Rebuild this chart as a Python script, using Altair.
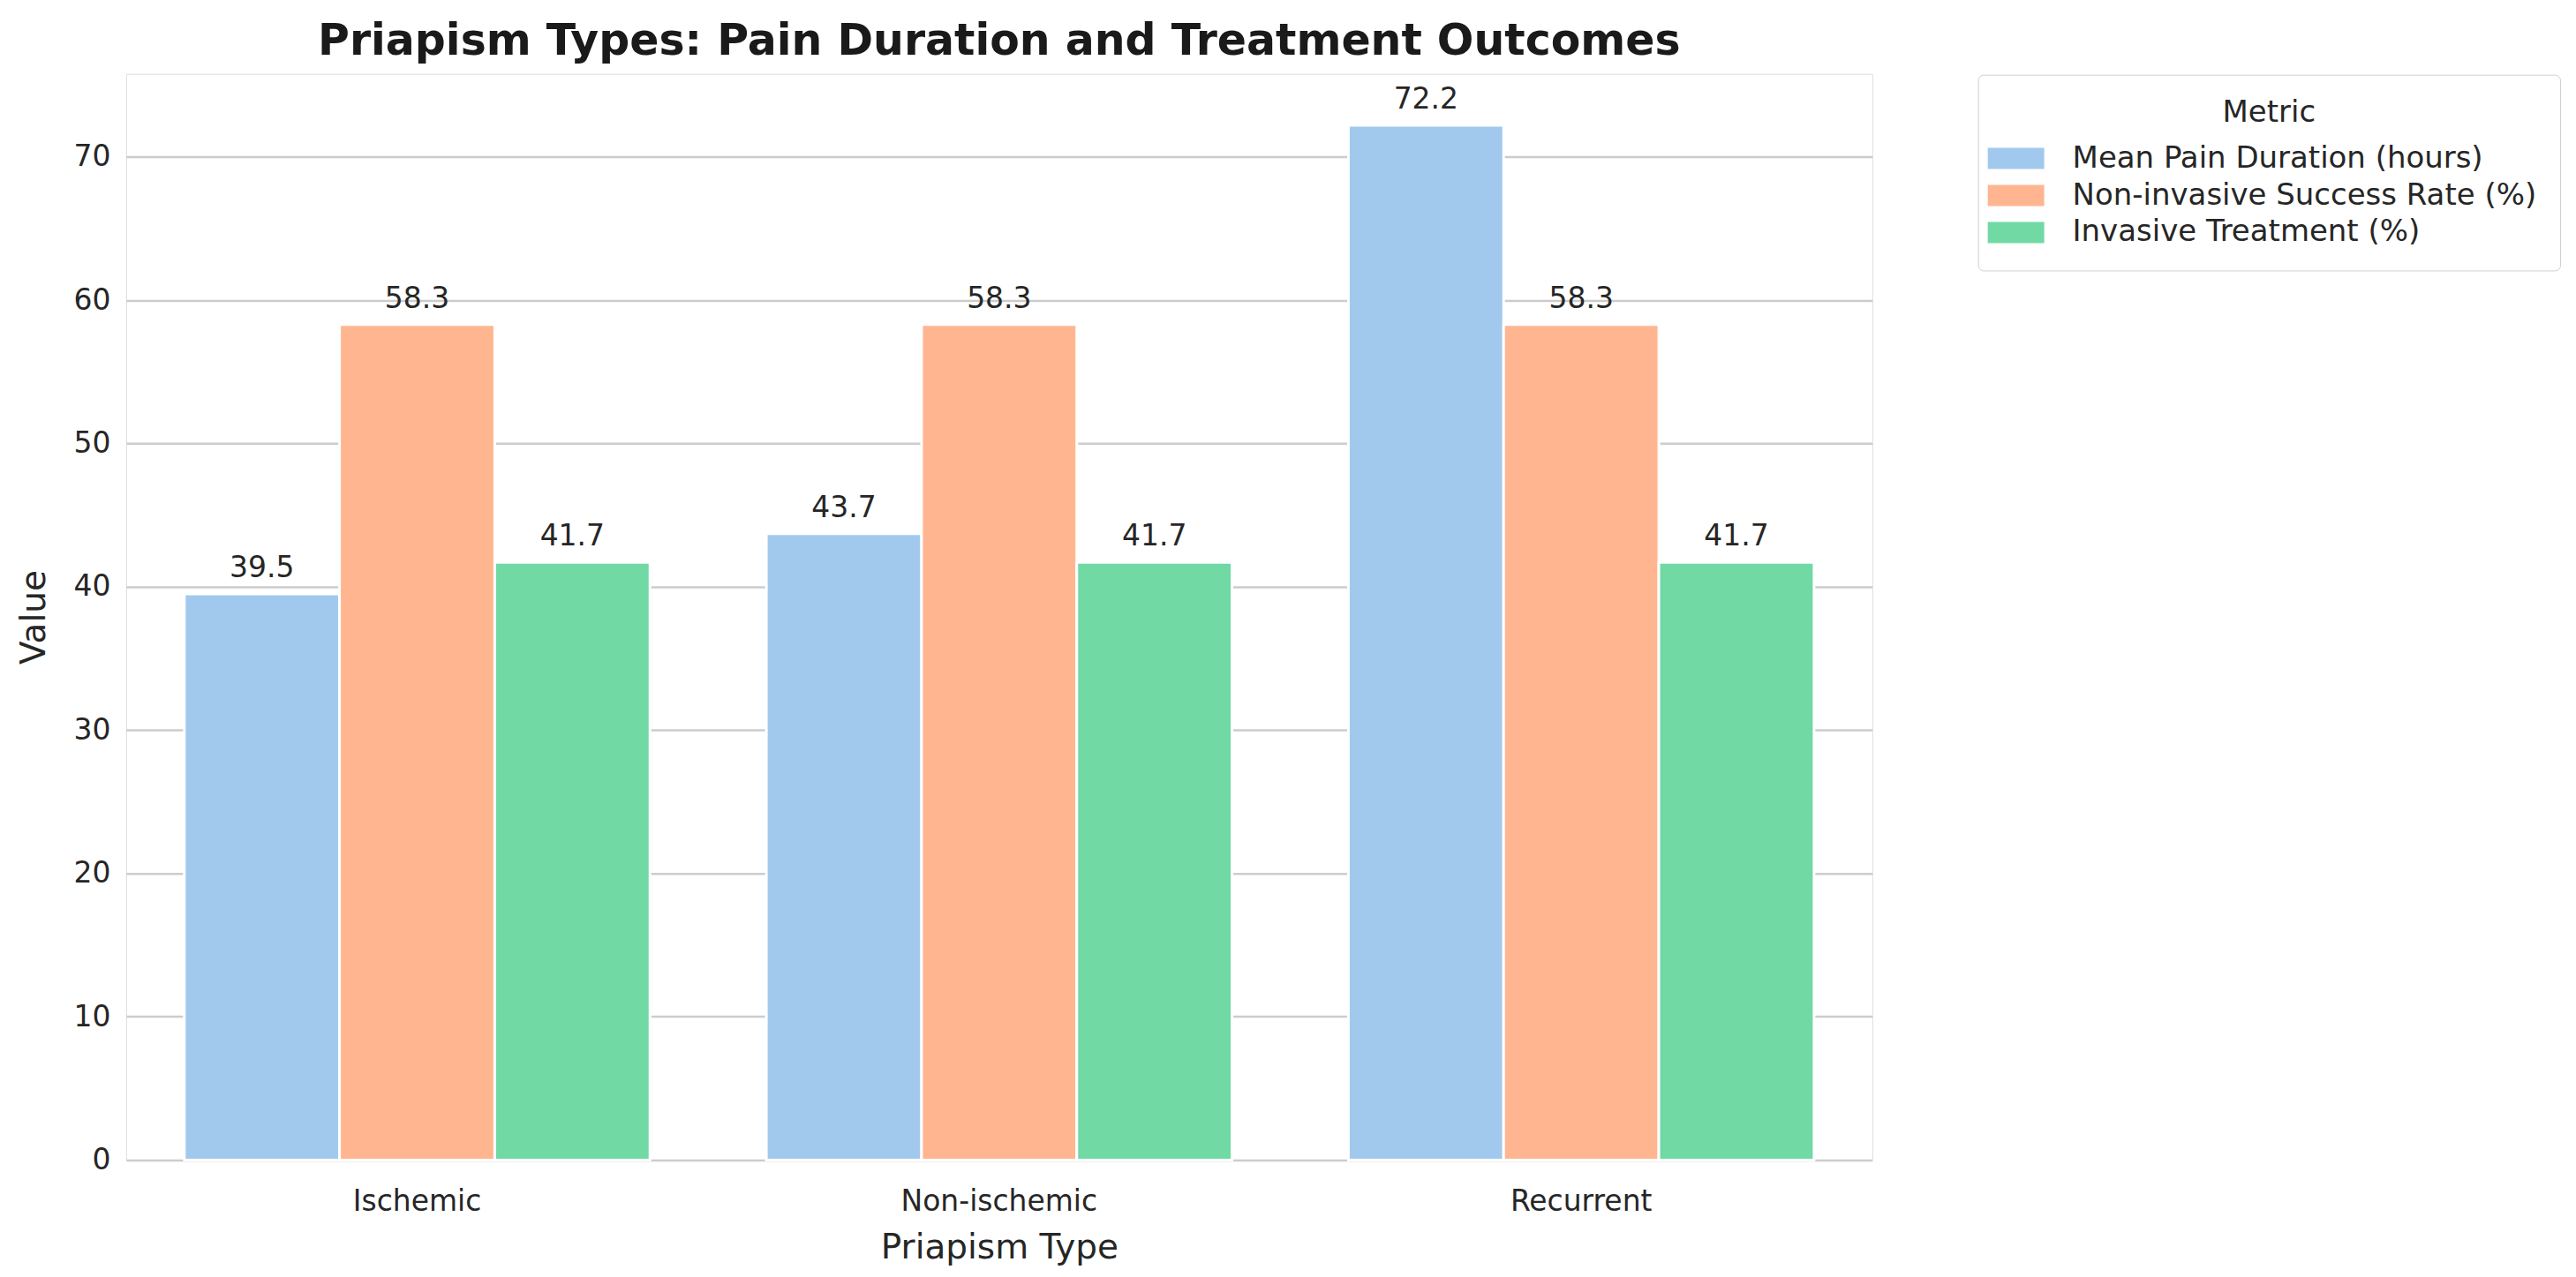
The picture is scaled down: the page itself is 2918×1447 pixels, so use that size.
import altair as alt
import pandas as pd

types = ["Ischemic", "Non-ischemic", "Recurrent"]
metrics = ["Mean Pain Duration (hours)", "Non-invasive Success Rate (%)", "Invasive Treatment (%)"]
mean_pain = [39.5, 43.7, 72.2]
noninvasive_success = [58.3, 58.3, 58.3]
invasive_treatment = [41.7, 41.7, 41.7]
colors = ["#a1c9ee", "#ffb690", "#70d9a4"]

rows = []
for i, t in enumerate(types):
    for m, vals in zip(metrics, [mean_pain, noninvasive_success, invasive_treatment]):
        rows.append({"Priapism Type": t, "Metric": m, "Value": vals[i]})
df = pd.DataFrame(rows)

FONT = "DejaVu Sans"

x = alt.X("Priapism Type:N", sort=types,
          scale=alt.Scale(paddingInner=0.2, paddingOuter=0.1),
          axis=alt.Axis(labelAngle=0, labelFontSize=33, labelColor="#262626", labelFont=FONT,
                        titleFontSize=39, titleColor="#262626", titleFont=FONT, titleFontWeight="normal",
                        labelPadding=31, titlePadding=16, ticks=False, domain=False, grid=False,
                        labelLimit=800))
xo = alt.XOffset("Metric:N", sort=metrics, scale=alt.Scale(paddingInner=0, paddingOuter=0))
y = alt.Y("Value:Q", scale=alt.Scale(domain=[0, 75.8], nice=False, zero=True),
          axis=alt.Axis(values=[0, 10, 20, 30, 40, 50, 60, 70], labelFontSize=33, labelColor="#262626",
                        labelFont=FONT, titleFontSize=39, titleColor="#262626", titleFont=FONT,
                        titleFontWeight="normal", labelPadding=18, titlePadding=24, ticks=False,
                        domain=False, gridColor="#cccccc", gridWidth=2.5))

color = alt.Color("Metric:N", sort=metrics,
                  scale=alt.Scale(domain=metrics, range=colors),
                  legend=alt.Legend(title="Metric", orient="none", legendX=2100, legendY=1,
                                    titleFontSize=34, titleFont=FONT, titleColor="#262626",
                                    titleFontWeight="normal", titleAnchor="middle", titleAlign="center",
                                    labelFontSize=34, labelFont=FONT, labelColor="#262626",
                                    symbolType="M-2,-0.75H2V0.75H-2Z", symbolSize=1024,
                                    symbolStrokeWidth=0, symbolOpacity=1,
                                    rowPadding=8, labelOffset=47, padding=26,
                                    strokeColor="#d0d0d0", fillColor="white", cornerRadius=6,
                                    titlePadding=18, labelLimit=800))

bars = alt.Chart(df).mark_bar(stroke="white", strokeWidth=3, opacity=1).encode(
    x=x, xOffset=xo, y=y, color=color)

labels = alt.Chart(df).mark_text(dy=-12, baseline="bottom", fontSize=33, font=FONT, color="#262626").encode(
    x=alt.X("Priapism Type:N", sort=types), xOffset=alt.XOffset("Metric:N", sort=metrics),
    y="Value:Q", text=alt.Text("Value:Q", format=".1f"))

chart = alt.layer(bars, labels).properties(
    width=1980, height=1232,
    title=alt.Title("Priapism Types: Pain Duration and Treatment Outcomes", fontSize=49, font=FONT,
                    fontWeight="bold", color="#1a1a1a", anchor="middle", offset=12),
    autosize=alt.AutoSizeParams(type="none"),
    padding={"left": 135, "top": 75, "right": 790, "bottom": 140},
).configure_view(stroke="#cccccc", strokeWidth=2.5).configure(background="white")

chart.save("out.html", embed_options={"renderer": "svg", "actions": False})
